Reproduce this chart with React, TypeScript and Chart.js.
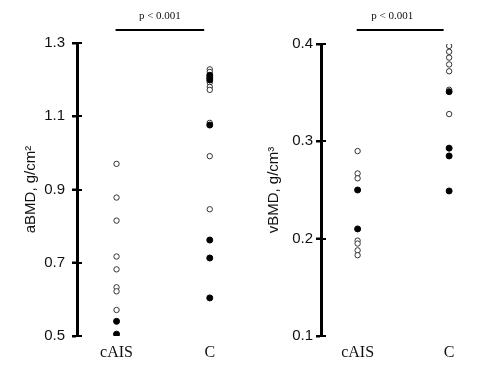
import React, { useEffect, useRef } from "react";
import { Chart, registerables } from "chart.js";

Chart.register(...registerables);

// ---------- data ----------
const categories = ["cAIS", "C"];

const aBMD_cAIS_open = [0.970, 0.878, 0.815, 0.717, 0.682, 0.633, 0.622, 0.571];
const aBMD_cAIS_filled = [0.540, 0.505];
const aBMD_C_open = [1.228, 1.221, 1.192, 1.180, 1.172, 1.082, 0.991, 0.846];
const aBMD_C_filled = [1.212, 1.205, 1.199, 1.076, 0.762, 0.713, 0.604];
const aBMD_ticks = [0.5, 0.7, 0.9, 1.1, 1.3];

const vBMD_cAIS_open = [0.290, 0.267, 0.262, 0.198, 0.195, 0.188, 0.183];
const vBMD_cAIS_filled = [0.250, 0.210];
const vBMD_C_open = [0.398, 0.392, 0.386, 0.379, 0.372, 0.353, 0.328];
const vBMD_C_filled = [0.351, 0.293, 0.285, 0.249];
const vBMD_ticks = [0.1, 0.2, 0.3, 0.4];

const pText = "p < 0.001";
const bracketFrom = 0.99;
const bracketTo = 1.94;

// ---------- helpers ----------
const toPts = (cat: number, vals: number[]) => vals.map((v) => ({ x: cat, y: v }));

const openStyle = {
  pointRadius: 2.7,
  pointBackgroundColor: "#ffffff",
  pointBorderColor: "#333333",
  pointBorderWidth: 1,
  showLine: false,
};
const filledStyle = {
  pointRadius: 3,
  pointBackgroundColor: "#000000",
  pointBorderColor: "#000000",
  pointBorderWidth: 1,
  showLine: false,
};

const crossTicks = {
  id: "crossTicks",
  afterDraw(chart: any) {
    const ys = chart.scales.y;
    const ctx = chart.ctx;
    const x = chart.chartArea.left;
    ctx.save();
    ctx.strokeStyle = "#000";
    ctx.lineWidth = 2;
    ys.ticks.forEach((t: any) => {
      const y = Math.round(ys.getPixelForValue(t.value));
      ctx.beginPath();
      ctx.moveTo(x - 5, y);
      ctx.lineTo(x + 5, y);
      ctx.stroke();
    });
    ctx.restore();
  },
};

const bracket = {
  id: "bracket",
  afterDraw(chart: any, _args: any, opts: any) {
    const xs = chart.scales.x;
    const ctx = chart.ctx;
    const x1 = xs.getPixelForValue(bracketFrom);
    const x2 = xs.getPixelForValue(bracketTo);
    const y = 30;
    ctx.save();
    ctx.strokeStyle = "#000";
    ctx.lineWidth = 2;
    ctx.beginPath();
    ctx.moveTo(x1, y);
    ctx.lineTo(x2, y);
    ctx.stroke();
    ctx.fillStyle = "#111";
    ctx.font = "11px 'Liberation Serif', serif";
    ctx.textAlign = "center";
    ctx.textBaseline = "middle";
    ctx.fillText(pText, (x1 + x2) / 2 + (opts.textShift || 0), 16);
    ctx.restore();
  },
};

function makeConfig(p: {
  cOpen: number[];
  cFilled: number[];
  aOpen: number[];
  aFilled: number[];
  ticks: number[];
  title: string;
  xmin: number;
  xmax: number;
  axisLeft: number;
  top: number;
  titlePad: number;
  tickPad: number;
  textShift: number;
}) {
  return {
    type: "scatter" as const,
    data: {
      datasets: [
        { data: toPts(1, p.aFilled), ...filledStyle },
        { data: toPts(2, p.cFilled), ...filledStyle },
        { data: toPts(1, p.aOpen), ...openStyle },
        { data: toPts(2, p.cOpen), ...openStyle },
      ],
    },
    options: {
      responsive: false,
      animation: false as const,
      layout: { padding: { top: p.top, left: 0, right: 8, bottom: 0 } },
      plugins: {
        legend: { display: false },
        tooltip: { enabled: false },
        bracket: { textShift: p.textShift },
      },
      scales: {
        x: {
          type: "linear" as const,
          min: p.xmin,
          max: p.xmax,
          grid: { display: false, drawTicks: false },
          border: { display: false },
          afterBuildTicks: (s: any) => {
            s.ticks = [{ value: 1 }, { value: 2 }];
          },
          afterFit: (s: any) => {
            s.height = 34;
          },
          ticks: {
            padding: 7,
            color: "#111",
            font: { family: "'Liberation Serif', serif", size: 16 },
            callback: (v: any) => categories[Math.round(v) - 1] ?? "",
            maxRotation: 0,
          },
        },
        y: {
          type: "linear" as const,
          min: p.ticks[0],
          max: p.ticks[p.ticks.length - 1],
          afterBuildTicks: (s: any) => {
            s.ticks = p.ticks.map((v) => ({ value: v }));
          },
          afterFit: (s: any) => {
            s.width = p.axisLeft;
          },
          grid: {
            display: true,
            drawOnChartArea: false,
            drawTicks: true,
            tickLength: 5,
            tickWidth: 2,
            tickColor: "#000",
            color: "#000",
          },
          border: { display: true, color: "#000", width: 3 },
          ticks: {
            padding: p.tickPad,
            color: "#111",
            font: { family: "'Liberation Sans', Arial, sans-serif", size: 15 },
            callback: (v: any) => Number(v).toFixed(1),
          },
          title: {
            display: true,
            text: p.title,
            color: "#111",
            font: { family: "'Liberation Sans', Arial, sans-serif", size: 15 },
            padding: { top: p.titlePad, bottom: 0 },
          },
        },
      },
    },
    plugins: [crossTicks, bracket],
  };
}

function Panel(props: { left: number; width: number; cfg: any }) {
  const ref = useRef<HTMLCanvasElement>(null);
  useEffect(() => {
    if (!ref.current) return;
    const chart = new Chart(ref.current, props.cfg);
    return () => chart.destroy();
  }, []);
  return (
    <canvas
      ref={ref}
      width={props.width}
      height={370}
      style={{ position: "absolute", left: props.left, top: 0, width: props.width, height: 370 }}
    />
  );
}

export default function App() {
  const leftCfg = makeConfig({
    aOpen: aBMD_cAIS_open,
    aFilled: aBMD_cAIS_filled,
    cOpen: aBMD_C_open,
    cFilled: aBMD_C_filled,
    ticks: aBMD_ticks,
    title: "aBMD, g/cm²",
    xmin: 0.576,
    xmax: 2.217,
    axisLeft: 77,
    top: 43,
    titlePad: 22,
    tickPad: 7,
    textShift: 0,
  });
  const rightCfg = makeConfig({
    aOpen: vBMD_cAIS_open,
    aFilled: vBMD_cAIS_filled,
    cOpen: vBMD_C_open,
    cFilled: vBMD_C_filled,
    ticks: vBMD_ticks,
    title: "vBMD, g/cm³",
    xmin: 0.6,
    xmax: 2.217,
    axisLeft: 83,
    top: 44,
    titlePad: 27,
    tickPad: 3,
    textShift: -8,
  });
  return (
    <div style={{ position: "fixed", left: 0, top: 0, width: 477, height: 370, background: "#fff" }}>
      <Panel left={0} width={238} cfg={leftCfg} />
      <Panel left={238} width={239} cfg={rightCfg} />
    </div>
  );
}
